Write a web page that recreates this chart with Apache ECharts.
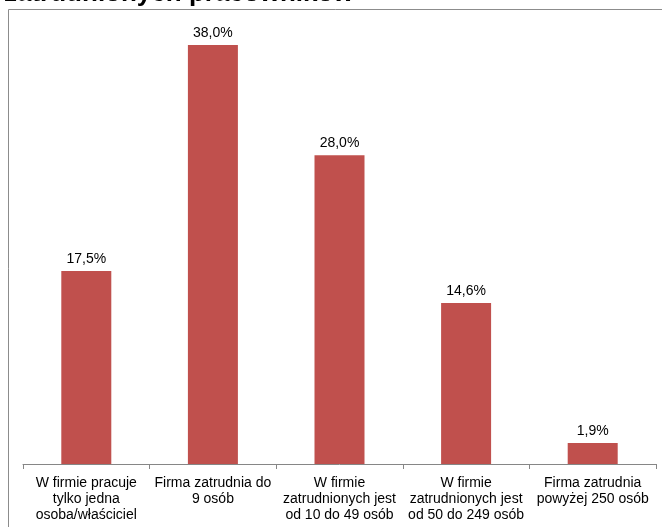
<!DOCTYPE html>
<html>
<head>
<meta charset="utf-8">
<script src="https://cdn.jsdelivr.net/npm/echarts@6/dist/echarts.min.js"></script>
<style>html,body{margin:0;padding:0;background:#fff;}#c{width:662px;height:527px;}</style>
</head>
<body>
<div id="c"></div>
<script>
var titleText = 'zatrudnionych pracowników';
var categories = [
  'W firmie pracuje\ntylko jedna\nosoba/właściciel',
  'Firma zatrudnia do\n9 osób',
  'W firmie\nzatrudnionych jest\nod 10 do 49 osób',
  'W firmie\nzatrudnionych jest\nod 50 do 249 osób',
  'Firma zatrudnia\npowyżej 250 osób'
];
var values = [17.5, 38.0, 28.0, 14.6, 1.9];

var chart = echarts.init(document.getElementById('c'));
chart.setOption({
  animation: false,
  backgroundColor: '#fff',
  graphic: [
    { type: 'rect', shape: { x: 8.5, y: 9.5, width: 700, height: 600 }, style: { fill: 'none', stroke: '#8c8c8c', lineWidth: 1 }, silent: true },
    { type: 'text', x: 4, y: 7, style: { text: titleText, font: 'bold 26px "Liberation Sans", Arial, sans-serif', fill: '#000', verticalAlign: 'bottom' } }
  ],
  grid: { left: 23, right: 6, top: 23, bottom: 63, containLabel: false },
  xAxis: {
    type: 'category',
    data: categories,
    axisLine: { lineStyle: { color: '#868686', width: 1 } },
    axisTick: { show: true, alignWithLabel: false, length: 5, lineStyle: { color: '#868686' } },
    axisLabel: { interval: 0, margin: 11, color: '#000', fontSize: 14, lineHeight: 16, fontFamily: '"Liberation Sans", Arial, sans-serif' }
  },
  yAxis: { type: 'value', min: 0, max: 40, show: false, splitLine: { show: false } },
  series: [{
    type: 'bar',
    data: values,
    barWidth: 50,
    itemStyle: { color: '#C0504D' },
    label: {
      show: true, position: 'top', distance: 5, color: '#000', fontSize: 14,
      fontFamily: '"Liberation Sans", Arial, sans-serif',
      formatter: function (p) { return p.value.toFixed(1).replace('.', ',') + '%'; }
    }
  }]
});
</script>
</body>
</html>
